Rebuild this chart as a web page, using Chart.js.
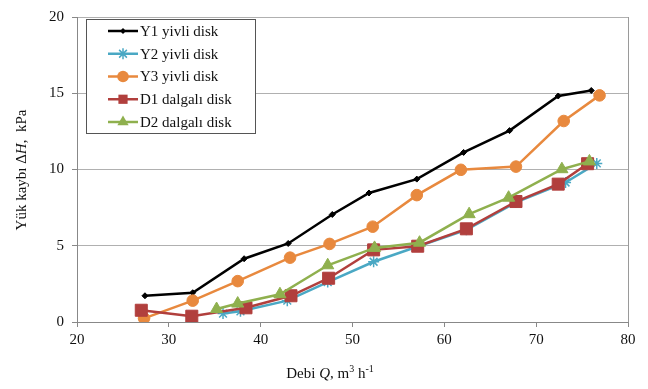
<!DOCTYPE html>
<html>
<head>
<meta charset="utf-8">
<title>Yük kaybı - Debi</title>
<script src="https://cdn.jsdelivr.net/npm/chart.js"></script>
<style>
  html, body { margin: 0; padding: 0; background: #fff; }
  #wrap { width: 648px; height: 389px; }
</style>
</head>
<body>
<div id="wrap"><canvas id="chart" width="648" height="389"></canvas></div>
<script>
// Debi Q (m3/h) and pressure loss ΔH (kPa) per disk type
const y1Q = [27.4, 32.6, 38.2, 43.0, 47.8, 51.8, 57.0, 62.1, 67.1, 72.4, 76.0];
const y1H = [1.72, 1.92, 4.15, 5.15, 7.05, 8.46, 9.37, 11.12, 12.55, 14.82, 15.18];

const y2Q = [35.9, 37.8, 42.9, 47.3, 52.3, 57.1, 62.4, 67.8, 73.2, 76.6];
const y2H = [0.55, 0.70, 1.40, 2.62, 3.95, 4.95, 6.05, 7.85, 9.15, 10.40];

const y3Q = [27.3, 32.6, 37.5, 43.2, 47.5, 52.2, 57.0, 61.8, 67.8, 73.0, 76.9];
const y3H = [0.24, 1.40, 2.68, 4.22, 5.12, 6.25, 8.32, 9.98, 10.19, 13.18, 14.86];

const d1Q = [27.0, 32.5, 38.4, 43.3, 47.4, 52.3, 57.1, 62.4, 67.8, 72.4, 75.6];
const d1H = [0.77, 0.38, 0.93, 1.72, 2.87, 4.73, 4.97, 6.11, 7.90, 9.04, 10.38];

const d2Q = [35.2, 37.5, 42.1, 47.3, 52.4, 57.3, 62.7, 67.0, 72.8, 75.8];
const d2H = [0.85, 1.21, 1.82, 3.72, 4.86, 5.20, 7.07, 8.15, 10.02, 10.53];

const seriesNames = ['Y1 yivli disk', 'Y2 yivli disk', 'Y3 yivli disk', 'D1 dalgalı disk', 'D2 dalgalı disk'];
const xTicks = [20, 30, 40, 50, 60, 70, 80];
const yTicks = [0, 5, 10, 15, 20];

const FONT = "'Liberation Serif', 'Times New Roman', serif";

const pairs = (qs, hs) => qs.map((q, i) => ({ x: q, y: hs[i] }));

function series(label, q, h, color, style, radius, order) {
  return {
    label, data: pairs(q, h), showLine: true,
    borderColor: color, backgroundColor: color, borderWidth: 2.5,
    pointStyle: style, pointRadius: radius, pointHoverRadius: radius,
    pointBackgroundColor: color, pointBorderColor: color, pointBorderWidth: 1,
    order
  };
}

const datasets = [
  series(seriesNames[0], y1Q, y1H, '#000000', 'rectRot', 3, 5),
  series(seriesNames[1], y2Q, y2H, '#4aa8c4', 'star', 5.5, 4),
  series(seriesNames[2], y3Q, y3H, '#e8893e', 'circle', 5.8, 3),
  series(seriesNames[3], d1Q, d1H, '#b13f3d', 'rect', 8.5, 2),
  series(seriesNames[4], d2Q, d2H, '#8fb04e', 'triangle', 7, 1)
];
datasets[1].pointBorderWidth = 1.5;

// draw a run of text pieces; i = italic, s = superscript
function drawRich(ctx, parts, cx, cy, size) {
  const fontOf = p => (p.i ? 'italic ' : '') + (p.s ? Math.round(size * 0.65) : size) + 'px ' + FONT;
  let total = 0;
  parts.forEach(p => { ctx.font = fontOf(p); total += ctx.measureText(p.t).width; });
  let x = cx - total / 2;
  ctx.textBaseline = 'middle';
  ctx.textAlign = 'left';
  parts.forEach(p => {
    ctx.font = fontOf(p);
    ctx.fillText(p.t, x, p.s ? cy - size * 0.3 : cy);
    x += ctx.measureText(p.t).width;
  });
}

function drawMarker(ctx, style, r, x, y, color) {
  ctx.save();
  ctx.fillStyle = color; ctx.strokeStyle = color; ctx.lineWidth = 1.5;
  ctx.beginPath();
  if (style === 'circle') { ctx.arc(x, y, r, 0, Math.PI * 2); ctx.fill(); }
  else if (style === 'rect') { const s = r * Math.SQRT1_2; ctx.fillRect(x - s, y - s, 2 * s, 2 * s); }
  else if (style === 'rectRot') { ctx.moveTo(x, y - r); ctx.lineTo(x + r, y); ctx.lineTo(x, y + r); ctx.lineTo(x - r, y); ctx.closePath(); ctx.fill(); }
  else if (style === 'triangle') {
    for (let k = 0; k < 3; k++) { const a = k * 2 * Math.PI / 3; const px = x + Math.sin(a) * r, py = y - Math.cos(a) * r; k ? ctx.lineTo(px, py) : ctx.moveTo(px, py); }
    ctx.closePath(); ctx.fill();
  } else if (style === 'star') {
    for (let k = 0; k < 4; k++) { const a = k * Math.PI / 4; ctx.moveTo(x + Math.cos(a) * r, y + Math.sin(a) * r); ctx.lineTo(x - Math.cos(a) * r, y - Math.sin(a) * r); }
    ctx.stroke();
  }
  ctx.restore();
}

const decor = {
  id: 'decor',
  afterDraw(chart) {
    const { ctx, chartArea: a } = chart;
    ctx.save();
    // right frame line
    ctx.strokeStyle = '#9a9a9a'; ctx.lineWidth = 1;
    ctx.beginPath(); ctx.moveTo(Math.round(a.right) + 0.5, a.top); ctx.lineTo(Math.round(a.right) + 0.5, a.bottom); ctx.stroke();

    // axis titles
    ctx.fillStyle = '#111';
    drawRich(ctx, [{ t: 'Debi ' }, { t: 'Q', i: true }, { t: ', m' }, { t: '3', s: true }, { t: ' h' }, { t: '-1', s: true }], 330, 374, 15);
    ctx.save();
    ctx.translate(22, 170); ctx.rotate(-Math.PI / 2);
    drawRich(ctx, [{ t: 'Yük kaybı Δ' }, { t: 'H', i: true }, { t: ',  kPa' }], 0, 0, 15);
    ctx.restore();

    // legend box
    const bx = 86.5, by = 19.5, bw = 169, bh = 114;
    ctx.fillStyle = '#fff'; ctx.fillRect(bx, by, bw, bh);
    ctx.strokeStyle = '#555'; ctx.lineWidth = 1; ctx.strokeRect(bx, by, bw, bh);
    chart.data.datasets.forEach((ds, i) => {
      const ry = 31 + i * 22.75;
      ctx.strokeStyle = ds.borderColor; ctx.lineWidth = 2.5;
      ctx.beginPath(); ctx.moveTo(108, ry); ctx.lineTo(138, ry); ctx.stroke();
      drawMarker(ctx, ds.pointStyle, Math.min(ds.pointRadius, 6.5), 123, ry, ds.borderColor);
      ctx.fillStyle = '#111'; ctx.font = '15px ' + FONT;
      ctx.textAlign = 'left'; ctx.textBaseline = 'middle';
      ctx.fillText(ds.label, 140, ry + 1);
    });
    ctx.restore();
  }
};

new Chart(document.getElementById('chart'), {
  type: 'scatter',
  data: { datasets },
  options: {
    responsive: false,
    animation: false,
    layout: { padding: { left: 37, right: 20, top: 8, bottom: 0 } },
    plugins: { legend: { display: false }, tooltip: { enabled: false } },
    scales: {
      x: {
        type: 'linear', min: xTicks[0], max: xTicks[xTicks.length - 1],
        afterBuildTicks: s => { s.ticks = xTicks.map(v => ({ value: v })); },
        afterFit: s => { s.height = 67; },
        grid: { display: true, drawOnChartArea: false, drawTicks: true, tickLength: 5, tickColor: '#888' },
        border: { color: '#888', width: 1 },
        ticks: { color: '#111', padding: 4, maxRotation: 0, font: { family: FONT, size: 15 } }
      },
      y: {
        type: 'linear', min: yTicks[0], max: yTicks[yTicks.length - 1],
        afterBuildTicks: s => { s.ticks = yTicks.map(v => ({ value: v })); },
        afterFit: s => { s.width = 40; },
        grid: { color: '#b0b0b0', lineWidth: 1, drawTicks: true, tickLength: 5, tickColor: '#888' },
        border: { color: '#888', width: 1 },
        ticks: { color: '#111', padding: 8, font: { family: FONT, size: 15 } }
      }
    }
  },
  plugins: [decor]
});
</script>
</body>
</html>
